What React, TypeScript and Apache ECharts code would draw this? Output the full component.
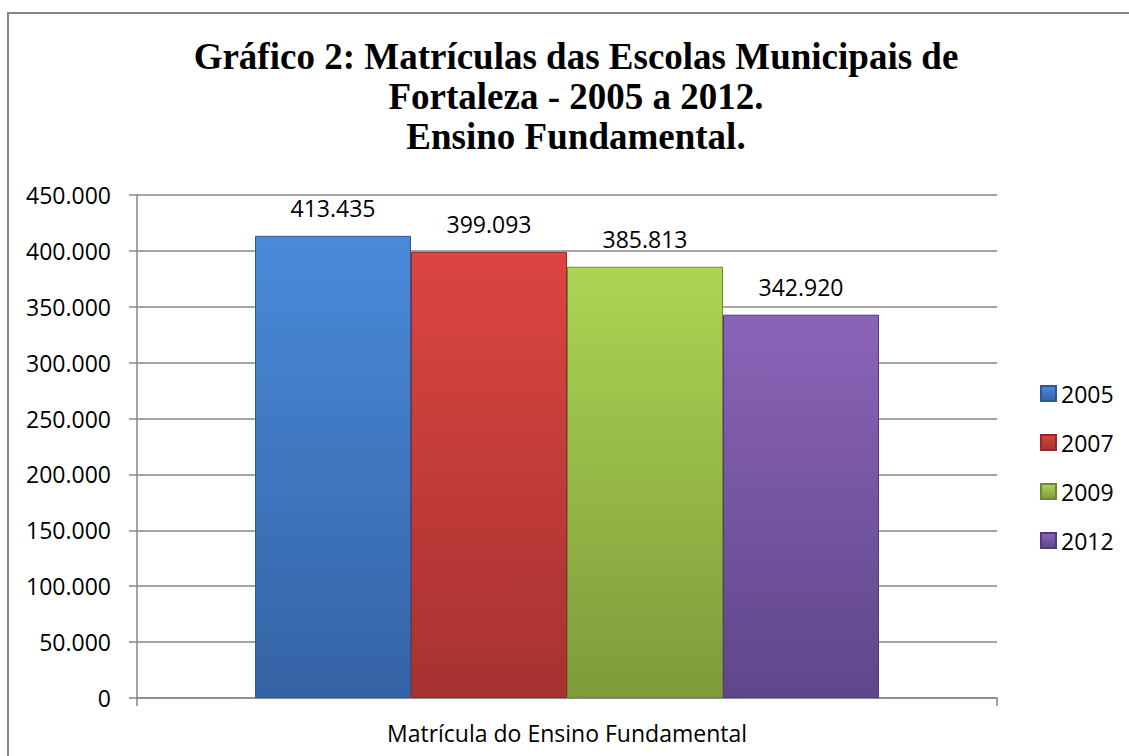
import React, { useEffect, useRef } from "react";
import * as echarts from "echarts";

const categories = ["Matrícula do Ensino Fundamental"];
const seriesNames = ["2005", "2007", "2009", "2012"];
const seriesValues = [413435, 399093, 385813, 342920];
const yMin = 0;
const yMax = 450000;
const yInterval = 50000;
const titleText =
  "Gráfico 2: Matrículas das Escolas Municipais de\nFortaleza - 2005 a 2012.\nEnsino Fundamental.";

const palette = [
  { top: "#4a8ad9", bottom: "#3463a5", border: "#2f5890" },
  { top: "#dc4541", bottom: "#a63231", border: "#8f2b2a" },
  { top: "#acd553", bottom: "#7e9b3b", border: "#6e8834" },
  { top: "#8a64b8", bottom: "#5f4689", border: "#523c77" },
];

const fmt = (v: number) =>
  String(Math.round(v)).replace(/\B(?=(\d{3})+(?!\d))/g, ".");

const FONT = "'Open Sans', sans-serif";

export default function App() {
  const ref = useRef<HTMLDivElement>(null);
  useEffect(() => {
    if (!ref.current) return;
    const chart = echarts.init(ref.current, undefined, { renderer: "svg" });
    const option: any = {
      animation: false,
      backgroundColor: "#ffffff",
      title: {
        text: titleText,
        left: 571,
        top: 31,
        textAlign: "center",
        textStyle: {
          fontFamily: "'Liberation Serif', 'Times New Roman', serif",
          fontWeight: "bold",
          fontSize: 37,
          lineHeight: 40,
          color: "#000",
        },
      },
      graphic: [
        {
          type: "rect",
          shape: { x: 8, y: 13, width: 1200, height: 800 },
          style: { fill: "none", stroke: "#868686", lineWidth: 2 },
          silent: true,
          z: 100,
        },
      ],
      legend: {
        orient: "vertical",
        left: 1040,
        top: 382,
        padding: 0,
        itemWidth: 15,
        itemHeight: 15,
        itemGap: 26,
        icon: "rect",
        data: seriesNames,
        textStyle: { fontFamily: FONT, fontSize: 23, color: "#000" },
      },
      grid: { left: 137, right: 132, top: 195, bottom: 58 },
      xAxis: {
        type: "category",
        data: categories,
        axisLine: { lineStyle: { color: "#868686", width: 1.5 } },
        axisTick: { show: true, length: 8, lineStyle: { color: "#868686", width: 1.5 } },
        axisLabel: { fontFamily: FONT, fontSize: 23, color: "#000", margin: 23 },
      },
      yAxis: {
        type: "value",
        min: yMin,
        max: yMax,
        interval: yInterval,
        axisLine: { show: true, lineStyle: { color: "#868686", width: 1.5 } },
        axisTick: { show: true, length: 8, lineStyle: { color: "#868686", width: 1.5 } },
        splitLine: { lineStyle: { color: "#868686", width: 1.5 } },
        axisLabel: {
          fontFamily: FONT,
          fontSize: 23,
          color: "#000",
          margin: 26,
          formatter: (v: number) => fmt(v),
        },
      },
      series: seriesNames.map((name, i) => ({
        name,
        type: "bar",
        barWidth: 156,
        barGap: "0%",
        data: [seriesValues[i]],
        itemStyle: {
          color: new echarts.graphic.LinearGradient(0, 0, 0, 1, [
            { offset: 0, color: palette[i].top },
            { offset: 1, color: palette[i].bottom },
          ]),
          borderColor: palette[i].border,
          borderWidth: 1,
        },
        label: {
          show: true,
          position: "top",
          distance: 16,
          fontFamily: FONT,
          fontSize: 23,
          color: "#000",
          formatter: (p: any) => fmt(p.value),
        },
      })),
    };
    chart.setOption(option);
    return () => chart.dispose();
  }, []);
  return (
    <div
      ref={ref}
      style={{ position: "fixed", left: 0, top: 0, width: 1129, height: 756 }}
    />
  );
}
